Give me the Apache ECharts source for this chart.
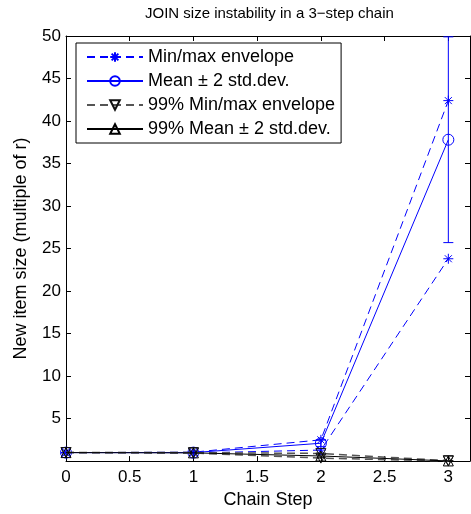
<!DOCTYPE html>
<html><head><meta charset="utf-8">
<script src="https://cdn.jsdelivr.net/npm/echarts@6/dist/echarts.min.js"></script>
<style>html,body{margin:0;padding:0;background:#fff}#c{width:471px;height:514px}</style>
</head><body><div id="c"></div>
<script>
const steps = [0, 1, 2, 3];
const minMaxUpper = [1.0, 1.05, 2.5, 42.4];
const minMaxLower = [1.0, 0.95, 1.3, 23.8];
const meanVals = [1.0, 1.0, 2.1, 37.8];
const meanErr = [0.0, 0.05, 0.4, 12.1];
const p99Upper = [1.0, 1.0, 0.9, 0.05];
const p99Lower = [1.0, 0.95, 0.35, 0.0];
const p99Mean = [1.0, 0.97, 0.6, 0.02];
const p99Err = [0.0, 0.03, 0.2, 0.03];
const yTicks = [5, 10, 15, 20, 25, 30, 35, 40, 45, 50];

const FONT = 'Liberation Sans, Arial, sans-serif';
const BLUE = '#0000ff';
const GRAY = '#555555';
const CLEAR = 'rgba(0,0,0,0)';
const asterisk = 'path://M0,-5L0,5M-5,0L5,0M-3.5,-3.5L3.5,3.5M-3.5,3.5L3.5,-3.5';
const DASH = [8, 5];

function pairs(ys) { return steps.map((x, i) => [x, ys[i]]); }

function errBarSeries(vals, errs, color, z) {
  return {
    type: 'custom', silent: true, z: z, legendHoverLink: false,
    data: steps.map((x, i) => [x, vals[i] - errs[i], vals[i] + errs[i]]),
    renderItem: function (params, api) {
      const lo = api.coord([api.value(0), api.value(1)]);
      const hi = api.coord([api.value(0), api.value(2)]);
      const w = 5;
      const st = { stroke: color, lineWidth: 1 };
      return { type: 'group', children: [
        { type: 'line', shape: { x1: lo[0], y1: lo[1], x2: hi[0], y2: hi[1] }, style: st },
        { type: 'line', shape: { x1: lo[0] - w, y1: lo[1], x2: lo[0] + w, y2: lo[1] }, style: st },
        { type: 'line', shape: { x1: hi[0] - w, y1: hi[1], x2: hi[0] + w, y2: hi[1] }, style: st }
      ]};
    }
  };
}

const chart = echarts.init(document.getElementById('c'), null, { renderer: 'canvas' });
const axisCommon = {
  axisLine: { show: true, onZero: false, lineStyle: { color: '#000', width: 1 } },
  axisTick: { show: true, inside: true, length: 5, lineStyle: { color: '#000' } },
  splitLine: { show: false },
};
chart.setOption({
  animation: false,
  textStyle: { fontFamily: FONT },
  title: {
    text: 'JOIN size instability in a 3\u2212step chain',
    left: 140, top: 1,
    textStyle: { fontSize: 15, fontWeight: 'normal', color: '#000', fontFamily: FONT }
  },
  grid: { left: 66, right: 1, top: 36, bottom: 51, containLabel: false },
  legend: {
    orient: 'vertical', left: 76, top: 43,
    padding: [5, 6, 5, 10],
    borderColor: '#000', borderWidth: 1, backgroundColor: '#fff',
    itemWidth: 56, itemHeight: 12, itemGap: 6,
    textStyle: { fontSize: 18, color: '#000', fontFamily: FONT, lineHeight: 18 },
    data: ['Min/max envelope', 'Mean \u00b1 2 std.dev.', '99% Min/max envelope', '99% Mean \u00b1 2 std.dev.']
  },
  xAxis: [
    Object.assign({}, axisCommon, {
      type: 'value', min: 0, max: 3.17, interval: 0.5, position: 'bottom',
      name: 'Chain Step', nameLocation: 'middle', nameGap: 25,
      nameTextStyle: { fontSize: 18, color: '#000', fontFamily: FONT },
      axisLabel: { color: '#000', fontSize: 17, margin: 8, showMaxLabel: false, fontFamily: FONT }
    }),
    Object.assign({}, axisCommon, {
      type: 'value', min: 0, max: 3.17, interval: 0.5, position: 'top',
      axisLabel: { show: false }
    })
  ],
  yAxis: [
    Object.assign({}, axisCommon, {
      type: 'value', min: 0, max: 50, interval: 5, position: 'left',
      name: 'New item size (multiple of r)', nameLocation: 'middle', nameGap: 36,
      nameTextStyle: { fontSize: 18, color: '#000', fontFamily: FONT },
      axisLabel: { color: '#000', fontSize: 17, margin: 5, showMinLabel: false, fontFamily: FONT,
        formatter: v => (yTicks.indexOf(v) >= 0 ? String(v) : '') }
    }),
    Object.assign({}, axisCommon, {
      type: 'value', min: 0, max: 50, interval: 5, position: 'right',
      axisLabel: { show: false }
    })
  ],
  series: [
    errBarSeries(meanVals, meanErr, BLUE, 3),
    errBarSeries(p99Mean, p99Err, '#000', 3),
    {
      name: 'Min/max envelope', type: 'line', data: pairs(minMaxUpper),
      symbol: asterisk, symbolSize: 10,
      lineStyle: { color: BLUE, width: 1, type: DASH },
      itemStyle: { color: CLEAR, borderColor: BLUE, borderWidth: 1 }, z: 4
    },
    {
      name: 'Min/max envelope', type: 'line', data: pairs(minMaxLower),
      symbol: asterisk, symbolSize: 10,
      lineStyle: { color: BLUE, width: 1, type: DASH },
      itemStyle: { color: CLEAR, borderColor: BLUE, borderWidth: 1 }, z: 4
    },
    {
      name: 'Mean \u00b1 2 std.dev.', type: 'line', data: pairs(meanVals),
      symbol: 'circle', symbolSize: 11,
      lineStyle: { color: BLUE, width: 1 },
      itemStyle: { color: CLEAR, borderColor: BLUE, borderWidth: 1 }, z: 4
    },
    {
      name: '99% Min/max envelope', type: 'line', data: pairs(p99Upper),
      symbol: 'triangle', symbolRotate: 180, symbolSize: 10,
      lineStyle: { color: GRAY, width: 1.5, type: DASH },
      itemStyle: { color: CLEAR, borderColor: '#111', borderWidth: 1 }, z: 5
    },
    {
      name: '99% Min/max envelope', type: 'line', data: pairs(p99Lower),
      symbol: 'triangle', symbolRotate: 180, symbolSize: 10,
      lineStyle: { color: GRAY, width: 1.5, type: DASH },
      itemStyle: { color: CLEAR, borderColor: '#111', borderWidth: 1 }, z: 5
    },
    {
      name: '99% Mean \u00b1 2 std.dev.', type: 'line', data: pairs(p99Mean),
      symbol: 'triangle', symbolSize: 10,
      lineStyle: { color: '#000', width: 1 },
      itemStyle: { color: CLEAR, borderColor: '#000', borderWidth: 1 }, z: 5
    }
  ]
});
</script></body></html>
